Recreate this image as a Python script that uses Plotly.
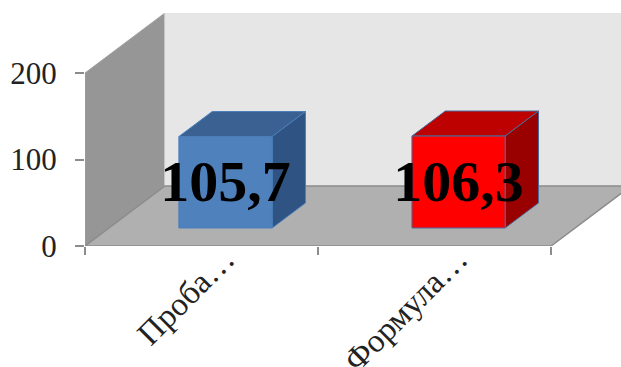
import plotly.graph_objects as go

# Chart data
categories = ["Проба…", "Формула…"]
values = [105.7, 106.3]
value_labels = ["105,7", "106,3"]
y_ticks = [0, 100, 200]

# Pseudo-3D box styling
front_colors = ["#4f81bd", "#ff0000"]
top_colors = ["#3a6191", "#bd0000"]
side_colors = ["#2f5382", "#990000"]
edge_colors = ["#4a7ebb", "#4a6a9c"]
WALL_SIDE = "#969696"
WALL_BACK = "#e6e6e6"
FLOOR = "#b0b0b0"
EDGE = "#8c8c8c"

# Oblique projection: depth 0..1 shifts a point right and up in axis units
DEPTH_X = 0.343
DEPTH_Y = 69.4
BAR_WIDTH = 0.4
BAR_NEAR = 0.3
BAR_FAR = 0.717
SPAN = len(categories)
VALUE_MAX = 200
LABEL_NUDGE = 5


def project(x, v, d):
    return x + DEPTH_X * d, v + DEPTH_Y * d


def face(points, fill, line, width=1.0):
    xy = [project(*p) for p in points + points[:1]]
    return go.Scatter(
        x=[p[0] for p in xy], y=[p[1] for p in xy],
        mode="lines", fill="toself", fillcolor=fill,
        line=dict(color=line, width=width), hoverinfo="skip", showlegend=False,
    )


fig = go.Figure()

# Walls and floor
fig.add_trace(face([(0, 0, 0), (0, VALUE_MAX, 0), (0, VALUE_MAX, 1), (0, 0, 1)], WALL_SIDE, "#a0a0a0"))
fig.add_trace(face([(0, 0, 1), (0, VALUE_MAX, 1), (SPAN, VALUE_MAX, 1), (SPAN, 0, 1)], WALL_BACK, "#e0e0e0"))
fig.add_trace(face([(0, 0, 0), (SPAN, 0, 0), (SPAN, 0, 1), (0, 0, 1)], FLOOR, EDGE, 1.5))

# One box per category
for i, v in enumerate(values):
    x0 = i + 0.5 - BAR_WIDTH / 2
    x1 = i + 0.5 + BAR_WIDTH / 2
    edge = edge_colors[i]
    fig.add_trace(face([(x0, v, BAR_NEAR), (x1, v, BAR_NEAR), (x1, v, BAR_FAR), (x0, v, BAR_FAR)], top_colors[i], edge))
    fig.add_trace(face([(x1, 0, BAR_NEAR), (x1, v, BAR_NEAR), (x1, v, BAR_FAR), (x1, 0, BAR_FAR)], side_colors[i], edge))
    fig.add_trace(face([(x0, 0, BAR_NEAR), (x1, 0, BAR_NEAR), (x1, v, BAR_NEAR), (x0, v, BAR_NEAR)], front_colors[i], edge))

# Value labels centred on the front faces
label_xy = [project(i + 0.5, v / 2 - LABEL_NUDGE, BAR_NEAR) for i, v in enumerate(values)]
fig.add_trace(go.Scatter(
    x=[p[0] for p in label_xy], y=[p[1] for p in label_xy],
    mode="text", text=value_labels, textposition="middle center",
    textfont=dict(family="Liberation Serif", size=58, color="#000000", weight="bold"),
    hoverinfo="skip", showlegend=False, cliponaxis=False,
))

fig.update_layout(
    width=621, height=367,
    margin=dict(l=85, r=0, t=13, b=121),
    paper_bgcolor="white", plot_bgcolor="white",
    showlegend=False,
    font=dict(family="Liberation Serif", color="#222222"),
    xaxis=dict(
        range=[0, 2.3], showgrid=False, zeroline=False, automargin=False,
        showline=False,
        tickmode="array", tickvals=[i + 0.6 for i in range(SPAN)], ticktext=categories,
        tickangle=-45, ticks="", tickfont=dict(size=33), ticklabelstandoff=-14,
        minor=dict(ticks="outside", ticklen=8, tickwidth=1.5, tickcolor=EDGE, tick0=0, dtick=1, showgrid=False),
    ),
    yaxis=dict(
        range=[0, VALUE_MAX + DEPTH_Y], showgrid=False, zeroline=False, automargin=False,
        showline=False,
        tickmode="array", tickvals=y_ticks, ticks="outside", ticklen=9, tickwidth=1.5,
        tickcolor=EDGE, tickfont=dict(size=31), ticklabelstandoff=12,
    ),
)

fig.write_html("out.html", config=dict(displayModeBar=False))
